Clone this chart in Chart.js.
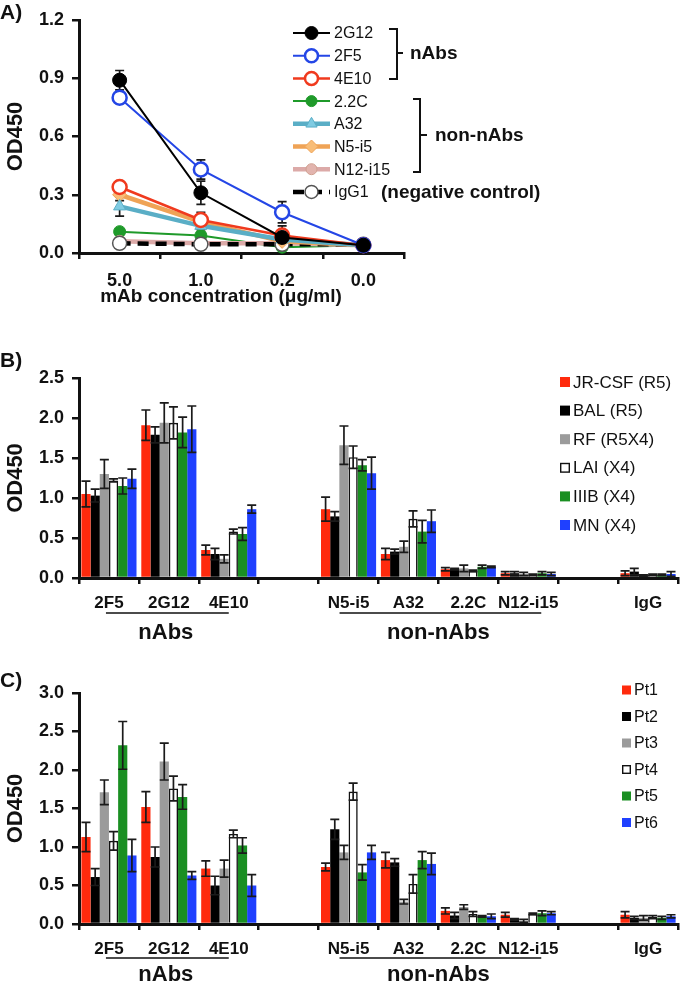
<!DOCTYPE html>
<html>
<head>
<meta charset="utf-8">
<script src="https://cdn.jsdelivr.net/npm/chart.js@4.4.1/dist/chart.umd.min.js"></script>
<style>
  body { margin: 0; background: #fff; }
  #wrap { position: relative; width: 680px; height: 982px; }
  canvas { position: absolute; left: 0; }
</style>
</head>
<body>
<div id="wrap">
  <canvas id="chartA" width="680" height="312" style="top:0px"></canvas>
  <canvas id="chartB" width="680" height="318" style="top:330px"></canvas>
  <canvas id="chartC" width="680" height="334" style="top:648px"></canvas>
</div>
<script>
// Panel A: binding vs mAb concentration
const concLabels = ['5.0', '1.0', '0.2', '0.0'];
const od2G12 = [0.89, 0.31, 0.08, 0.04];
const err2G12 = [0.05, 0.06, 0.06, 0.01];
const od2F5 = [0.80, 0.43, 0.21, 0.04];
const err2F5 = [0.03, 0.05, 0.055, 0.01];
const od4E10 = [0.34, 0.17, 0.09, 0.04];
const err4E10 = [0.03, 0.04, 0.02, 0.01];
const od22C = [0.11, 0.09, 0.03, 0.04];
const od22CErr = [0.01, 0.01, 0.01, 0.01];
const odA32 = [0.24, 0.14, 0.07, 0.04];
const errA32 = [0.05, 0.02, 0.01, 0.01];
const odN5i5 = [0.30, 0.16, 0.06, 0.04];
const errN5i5 = [0.03, 0.02, 0.01, 0.01];
const odN12i15 = [0.06, 0.05, 0.05, 0.04];
const odIgG1 = [0.05, 0.045, 0.045, 0.045];

// Panels B and C: categories
const mAbLabels = ['2F5', '2G12', '4E10', '', 'N5-i5', 'A32', '2.2C', 'N12-i15', '', 'IgG'];

// Panel B: virus strains
const jrcsf = [1.05, 1.91, 0.35, null, 0.86, 0.30, 0.11, 0.06, null, 0.06];
const jrcsfErr = [0.16, 0.19, 0.06, null, 0.15, 0.07, 0.02, 0.02, null, 0.03];
const bal = [1.03, 1.79, 0.30, null, 0.77, 0.33, 0.11, 0.06, null, 0.08];
const balErr = [0.08, 0.10, 0.07, null, 0.06, 0.03, 0.01, 0.02, null, 0.04];
const rf = [1.30, 1.94, 0.24, null, 1.66, 0.39, 0.12, 0.05, null, 0.03];
const rfErr = [0.18, 0.25, 0.05, null, 0.24, 0.07, 0.04, 0.02, null, 0.01];
const lai = [1.22, 1.94, 0.58, null, 1.51, 0.74, 0.09, 0.04, null, 0.04];
const laiErr = [0.02, 0.20, 0.03, null, 0.14, 0.10, 0.01, 0.01, null, 0.01];
const iiib = [1.15, 1.82, 0.55, null, 1.41, 0.58, 0.14, 0.06, null, 0.04];
const iiibErr = [0.10, 0.19, 0.08, null, 0.07, 0.14, 0.02, 0.02, null, 0.01];
const mn = [1.24, 1.86, 0.86, null, 1.31, 0.71, 0.14, 0.05, null, 0.05];
const mnErr = [0.12, 0.29, 0.05, null, 0.20, 0.14, 0.01, 0.02, null, 0.03];

// Panel C: patient sera
const pt1 = [1.13, 1.52, 0.72, null, 0.74, 0.83, 0.17, 0.12, null, 0.12];
const pt1Err = [0.19, 0.20, 0.10, null, 0.05, 0.10, 0.04, 0.03, null, 0.04];
const pt2 = [0.61, 0.87, 0.50, null, 1.23, 0.80, 0.11, 0.06, null, 0.08];
const pt2Err = [0.11, 0.13, 0.12, null, 0.13, 0.05, 0.04, 0.01, null, 0.02];
const pt3 = [1.71, 2.11, 0.72, null, 0.93, 0.29, 0.22, 0.04, null, 0.08];
const pt3Err = [0.16, 0.24, 0.11, null, 0.09, 0.03, 0.03, 0.02, null, 0.03];
const pt4 = [1.08, 1.76, 1.17, null, 1.72, 0.52, 0.13, 0.13, null, 0.09];
const pt4Err = [0.12, 0.16, 0.05, null, 0.11, 0.12, 0.03, 0.01, null, 0.02];
const pt5 = [2.32, 1.65, 1.02, null, 0.67, 0.83, 0.10, 0.14, null, 0.08];
const pt5Err = [0.31, 0.16, 0.10, null, 0.10, 0.11, 0.01, 0.03, null, 0.02];
const pt6 = [0.89, 0.63, 0.50, null, 0.93, 0.78, 0.10, 0.14, null, 0.10];
const pt6Err = [0.21, 0.05, 0.14, null, 0.09, 0.14, 0.03, 0.02, null, 0.02];

const RED = '#ff2a0d', GRAY = '#9b9b9b', GREEN = '#1a8f22', BLUE = '#1f40ff';
const FONT = "'Liberation Sans', Arial, sans-serif";
Chart.defaults.font.family = FONT;
Chart.defaults.color = '#111';

// error bars, drawn through the y scale
function errorBarsPlugin(before) {
    const draw = chart => {
        const ctx = chart.ctx, ys = chart.scales.y;
        chart.data.datasets.forEach((ds, di) => {
            if (!ds.errors) return;
            const meta = chart.getDatasetMeta(di);
            ctx.save();
            ctx.strokeStyle = '#1a1a1a';
            ctx.lineWidth = 1.7;
            meta.data.forEach((el, i) => {
                const v = ds.data[i], e = ds.errors[i];
                if (v == null || !e) return;
                const yt = ys.getPixelForValue(v + e);
                const yb = ys.getPixelForValue(Math.max(v - e, 0));
                const hw = 4.5;
                ctx.beginPath();
                ctx.moveTo(el.x, yt); ctx.lineTo(el.x, yb);
                ctx.moveTo(el.x - hw, yt); ctx.lineTo(el.x + hw, yt);
                ctx.moveTo(el.x - hw, yb); ctx.lineTo(el.x + hw, yb);
                ctx.stroke();
            });
            ctx.restore();
        });
    };
    return before ? { id: 'errBefore', beforeDatasetsDraw: draw } : { id: 'errAfter', afterDatasetsDraw: draw };
}

function text(ctx, str, x, y, size, bold, align) {
    ctx.save();
    ctx.font = (bold ? 'bold ' : '') + size + 'px ' + FONT;
    ctx.fillStyle = '#111';
    ctx.textBaseline = 'middle';
    ctx.textAlign = align || 'left';
    ctx.fillText(str, x, y);
    ctx.restore();
}

function axisOpts(max, step, xHeight, xFont, xPad) {
    return {
        x: {
            offset: true,
            grid: { offset: true, drawOnChartArea: false, drawTicks: true, tickLength: 6, color: '#111', lineWidth: 2.5 },
            border: { color: '#111', width: 3 },
            ticks: { font: { size: xFont, weight: 'bold' }, color: '#111', padding: xPad, autoSkip: false, maxRotation: 0 },
            afterFit: s => { s.height = xHeight; }
        },
        y: {
            min: 0, max: max,
            grid: { drawOnChartArea: false, drawTicks: true, tickLength: 7, color: '#111', lineWidth: 2.5 },
            border: { color: '#111', width: 3 },
            ticks: { stepSize: step, font: { size: 18, weight: 'bold' }, color: '#111', padding: 8,
                     callback: v => Number(v).toFixed(1) },
            title: { display: true, text: 'OD450', font: { size: 22, weight: 'bold' }, color: '#111', padding: 3 },
            afterFit: s => { s.width = 79; }
        }
    };
}

// ---------- Panel A ----------
const lineSets = [
    { label: '2G12', data: od2G12, errors: err2G12, borderColor: '#000', borderWidth: 2, order: 0,
      pointBackgroundColor: '#000', pointBorderColor: '#000', pointBorderWidth: 1, pointRadius: 7, pointStyle: 'circle' },
    { label: '2F5', data: od2F5, errors: err2F5, borderColor: '#2446e6', borderWidth: 2, order: 0,
      pointBackgroundColor: '#fff', pointBorderColor: '#2446e6', pointBorderWidth: 2.5, pointRadius: 7, pointStyle: 'circle' },
    { label: '4E10', data: od4E10, errors: err4E10, borderColor: '#f03a1e', borderWidth: 2.5, order: 0,
      pointBackgroundColor: '#fff', pointBorderColor: '#f03a1e', pointBorderWidth: 2.5, pointRadius: 7, pointStyle: 'circle' },
    { label: '2.2C', data: od22C, errors: od22CErr, borderColor: '#1f9a2a', borderWidth: 2, order: 3,
      pointBackgroundColor: '#1f9a2a', pointBorderColor: '#1f9a2a', pointBorderWidth: 1, pointRadius: 6, pointStyle: 'circle' },
    { label: 'A32', data: odA32, errors: errA32, borderColor: '#5aaec6', borderWidth: 4.5, order: 0,
      pointBackgroundColor: '#7fcbe2', pointBorderColor: '#5aaec6', pointBorderWidth: 1, pointRadius: 7, pointStyle: 'triangle' },
    { label: 'N5-i5', data: odN5i5, errors: errN5i5, borderColor: '#efa356', borderWidth: 4.5, order: 0,
      pointBackgroundColor: '#f8bd78', pointBorderColor: '#efa356', pointBorderWidth: 1, pointRadius: 7, pointStyle: 'rectRot' },
    { label: 'N12-i15', data: odN12i15, borderColor: '#dcaaa8', borderWidth: 4.5, order: 2,
      pointBackgroundColor: '#e2b4ae', pointBorderColor: '#d0a090', pointBorderWidth: 1, pointRadius: 6, pointStyle: 'circle' },
    { label: 'IgG1', data: odIgG1, borderColor: '#000', borderWidth: 4.5, borderDash: [11, 7], order: 1,
      pointBackgroundColor: '#fff', pointBorderColor: '#555', pointBorderWidth: 1.5, pointRadius: 7, pointStyle: 'circle' }
];

const decorA = {
    id: 'decorA',
    afterDraw(chart) {
        const ctx = chart.ctx;
        text(ctx, 'A)', 0, 13, 21, true);
        text(ctx, 'mAb concentration (\u03bcg/ml)', 221, 297, 19, true, 'center');
        // legend
        chart.data.datasets.forEach((ds, i) => {
            const yy = 33 + i * 22.7;
            ctx.save();
            ctx.strokeStyle = ds.borderColor;
            ctx.lineWidth = ds.borderWidth;
            ctx.setLineDash(ds.borderDash || []);
            ctx.beginPath(); ctx.moveTo(293, yy); ctx.lineTo(330, yy); ctx.stroke();
            ctx.setLineDash([]);
            ctx.fillStyle = ds.pointBackgroundColor;
            ctx.strokeStyle = ds.pointBorderColor;
            ctx.lineWidth = ds.pointBorderWidth;
            Chart.helpers.drawPoint(ctx, { pointStyle: ds.pointStyle, radius: ds.pointRadius - 0.5, rotation: 0, borderWidth: ds.pointBorderWidth }, 311.5, yy);
            ctx.restore();
            text(ctx, ds.label, 334, yy + 1, 16, false);
        });
        // brackets
        ctx.save();
        ctx.strokeStyle = '#111'; ctx.lineWidth = 2;
        ctx.beginPath();
        ctx.moveTo(389, 29); ctx.lineTo(397, 29); ctx.lineTo(397, 79); ctx.lineTo(389, 79);
        ctx.moveTo(397, 53); ctx.lineTo(403, 53);
        ctx.moveTo(413, 99); ctx.lineTo(420, 99); ctx.lineTo(420, 172); ctx.lineTo(413, 172);
        ctx.moveTo(420, 135); ctx.lineTo(427, 135);
        ctx.stroke();
        ctx.restore();
        text(ctx, 'nAbs', 410, 54, 19, true);
        text(ctx, 'non-nAbs', 435, 136, 19, true);
        text(ctx, '(negative control)', 381, 193, 19, true);
    }
};

new Chart(document.getElementById('chartA'), {
    type: 'line',
    data: { labels: concLabels, datasets: lineSets.map(d => Object.assign({ tension: 0, fill: false, clip: false }, d)) },
    options: {
        responsive: false, animation: false,
        layout: { padding: { top: 20, right: 276, left: 0, bottom: 0 } },
        plugins: { legend: { display: false }, tooltip: { enabled: false } },
        scales: axisOpts(1.2, 0.3, 59, 18, 11)
    },
    plugins: [errorBarsPlugin(true), decorA]
});

// ---------- Panels B and C ----------
function barSet(label, data, errors, color) {
    const white = color === '#fff';
    return { label, data, errors, backgroundColor: color,
             borderColor: white ? '#111' : color, borderWidth: white ? 1.6 : 0, borderSkipped: 'bottom' };
}

function decorBars(letter, letterY, legendItems, lx, ly0, lstep, lsize, sq, labelY, groupGap) {
    return {
        id: 'decor' + letter,
        afterDraw(chart) {
            const ctx = chart.ctx, xs = chart.scales.x;
            text(ctx, letter + ')', 0, letterY, 21, true);
            legendItems.forEach((it, i) => {
                const yy = ly0 + i * lstep;
                ctx.save();
                ctx.fillStyle = it.backgroundColor;
                ctx.fillRect(lx, yy - sq / 2, sq, sq);
                if (it.borderWidth) {
                    ctx.strokeStyle = '#111'; ctx.lineWidth = 1.4;
                    ctx.strokeRect(lx + 0.7, yy - sq / 2 + 0.7, sq - 1.4, sq - 1.4);
                }
                ctx.restore();
                text(ctx, it.label, lx + sq + 3, yy + 1, lsize, false);
            });
            // group underlines
            const uy = labelY + 11;
            ctx.save();
            ctx.strokeStyle = '#111'; ctx.lineWidth = 1.3;
            ctx.beginPath();
            ctx.moveTo(xs.getPixelForValue(0) - 3, uy); ctx.lineTo(xs.getPixelForValue(2), uy);
            ctx.moveTo(xs.getPixelForValue(4) - 9, uy); ctx.lineTo(xs.getPixelForValue(7) + 13, uy);
            ctx.stroke();
            ctx.restore();
            text(ctx, 'nAbs', xs.getPixelForValue(1) - 3, uy + groupGap, 22, true, 'center');
            text(ctx, 'non-nAbs', (xs.getPixelForValue(5) + xs.getPixelForValue(6)) / 2, uy + groupGap, 22, true, 'center');
        }
    };
}

const setsB = [
    barSet('JR-CSF (R5)', jrcsf, jrcsfErr, RED),
    barSet('BAL (R5)', bal, balErr, '#000'),
    barSet('RF (R5X4)', rf, rfErr, GRAY),
    barSet('LAI (X4)', lai, laiErr, '#fff'),
    barSet('IIIB (X4)', iiib, iiibErr, GREEN),
    barSet('MN (X4)', mn, mnErr, BLUE)
];
new Chart(document.getElementById('chartB'), {
    type: 'bar',
    data: { labels: mAbLabels, datasets: setsB },
    options: {
        responsive: false, animation: false,
        layout: { padding: { top: 48, right: 2, left: 0, bottom: 0 } },
        datasets: { bar: { categoryPercentage: 0.92, barPercentage: 1.0 } },
        plugins: { legend: { display: false }, tooltip: { enabled: false } },
        scales: axisOpts(2.5, 0.5, 70, 17, 9)
    },
    plugins: [errorBarsPlugin(false), decorBars('B', 31, setsB, 560, 52, 28.6, 17, 10, 272, 20)]
});

const setsC = [
    barSet('Pt1', pt1, pt1Err, RED),
    barSet('Pt2', pt2, pt2Err, '#000'),
    barSet('Pt3', pt3, pt3Err, GRAY),
    barSet('Pt4', pt4, pt4Err, '#fff'),
    barSet('Pt5', pt5, pt5Err, GREEN),
    barSet('Pt6', pt6, pt6Err, BLUE)
];
new Chart(document.getElementById('chartC'), {
    type: 'bar',
    data: { labels: mAbLabels, datasets: setsC },
    options: {
        responsive: false, animation: false,
        layout: { padding: { top: 45, right: 2, left: 0, bottom: 0 } },
        datasets: { bar: { categoryPercentage: 0.92, barPercentage: 1.0 } },
        plugins: { legend: { display: false }, tooltip: { enabled: false } },
        scales: axisOpts(3.0, 0.5, 58, 17, 9)
    },
    plugins: [errorBarsPlugin(false), decorBars('C', 33, setsC, 622, 42, 26.5, 16, 9, 299, 17)]
});
</script>
</body>
</html>
